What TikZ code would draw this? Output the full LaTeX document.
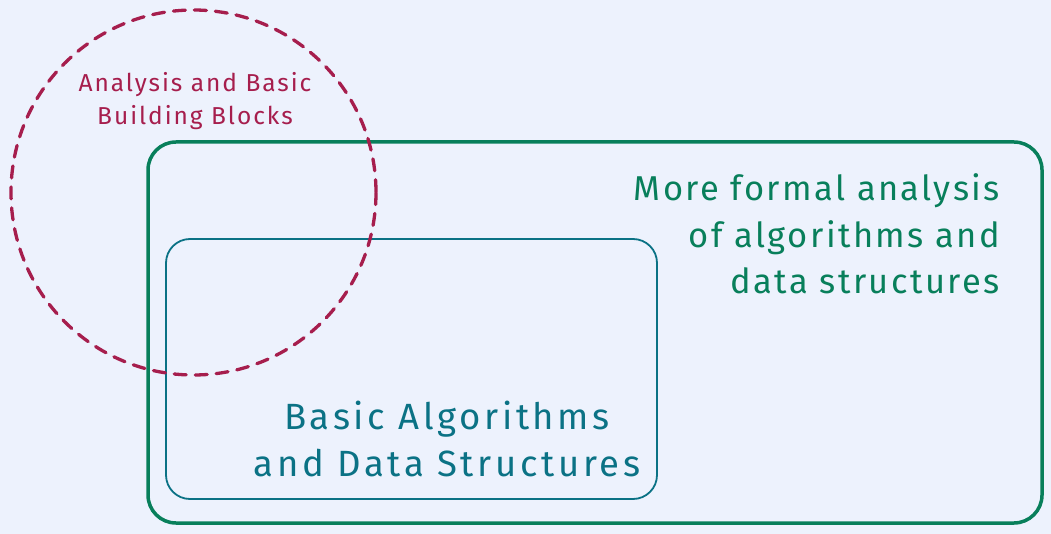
\documentclass[tikz,border=0pt]{standalone}
\usepackage{fontspec}
\setmainfont{Fira Sans}
\newfontfamily\wideA[LetterSpace=8]{Fira Sans}
\newfontfamily\wideB[LetterSpace=7]{Fira Sans}
\newfontfamily\wideC[LetterSpace=10]{Fira Sans}
\definecolor{bg}{HTML}{EDF2FD}
\definecolor{crim}{HTML}{A61E4D}
\definecolor{grn}{HTML}{087F5B}
\definecolor{teal}{HTML}{0B7285}
\begin{document}
\begin{tikzpicture}[x=1pt,y=-1pt,
  lbl/.style={inner sep=0pt}]
\fill[bg] (0,0) rectangle (1051,534);
\useasboundingbox (0,0) rectangle (1051,534);
% outer green box
\draw[grn,line width=3.5pt,rounded corners=28pt] (148,142) rectangle (1042,523);
% inner teal box
\draw[teal,line width=1.8pt,rounded corners=24pt] (166,239) rectangle (657,499);
% dashed circle
\draw[crim,line width=3.3pt,dash pattern=on 12pt off 9pt,line cap=round] (193.5,192.5) circle[radius=182.5];
\node[lbl,text=crim,align=center,
  font=\wideA\fontsize{24.5}{33}\selectfont] (a) at (195,101) {Analysis and Basic\\Building Blocks};
\node[lbl,text=grn,align=right,anchor=east,
  font=\wideB\fontsize{34.5}{46.5}\selectfont] (m) at (1000,234) {More formal analysis\\of algorithms and\\data structures};
\node[lbl,text=teal,align=center,
  font=\wideC\fontsize{36.5}{47}\selectfont] (b) at (447,439) {Basic Algorithms\\and Data Structures};
\end{tikzpicture}
\end{document}
